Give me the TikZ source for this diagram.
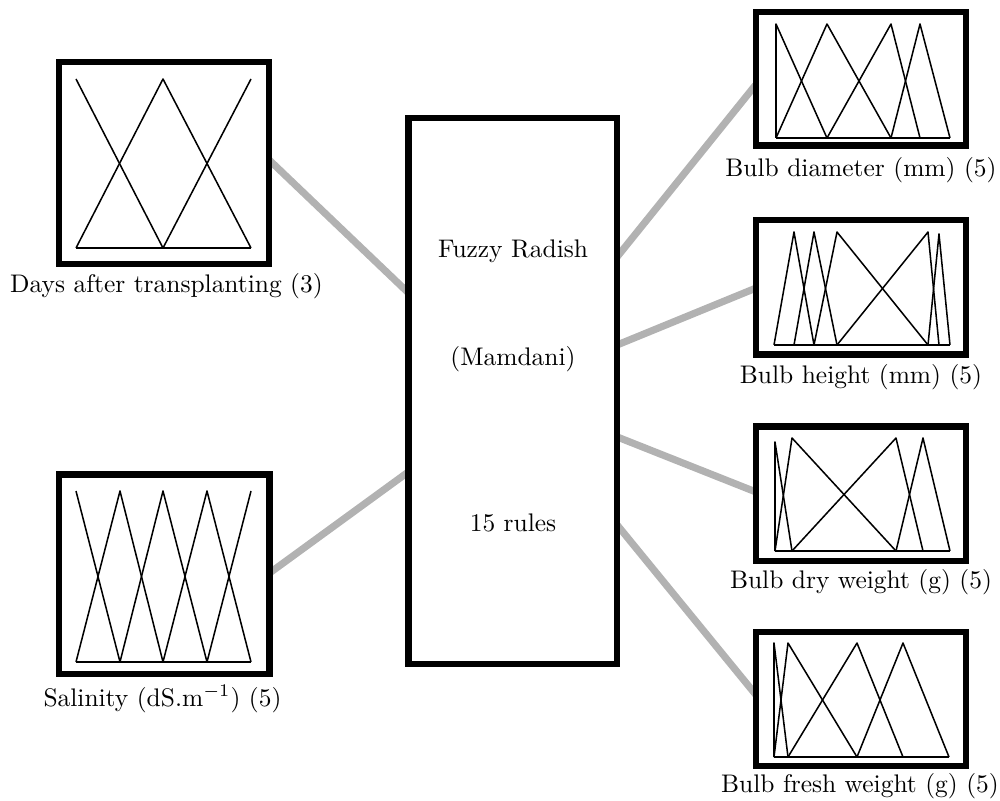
\documentclass[tikz,border=0pt]{standalone}
\usetikzlibrary{calc,backgrounds}
\definecolor{linkgray}{RGB}{178,178,178}
\begin{document}
\begin{tikzpicture}[x=0.393pt,y=-0.393pt,
  frame/.style={draw=black,line width=2.36pt,fill=white,inner sep=0pt,outer sep=0pt},
  box/.style 2 args={minimum width=#1*0.393pt,minimum height=#2*0.393pt},
  mf/.style={line width=0.6pt,line join=round},
  conn/.style={draw=linkgray,line width=2.8pt},
  lbl/.style={anchor=base,inner sep=0pt}]
\useasboundingbox (0,0) rectangle (1000,801);

% boxes
\node[frame,box={210}{201.5}] (days) at (164,163) {};
\node[frame,box={210.5}{199.5}] (sal) at (164.25,574.25) {};
\node[frame,box={208.5}{546}] (fis) at (512.75,391) {};
\node[frame,box={210}{133.5}] (diam) at (860.5,78.75) {};
\node[frame,box={209.5}{134.5}] (height) at (860.75,287.25) {};
\node[frame,box={209.5}{134.5}] (dry) at (860.75,493.75) {};
\node[frame,box={209.5}{134}] (fresh) at (860.75,699) {};

% connectors
\begin{scope}[on background layer]
\draw[conn] ($(days.north east)!0.484!(days.south east)$) -- ($(fis.north west)!0.3205!(fis.south west)$);
\draw[conn] ($(sal.north east)!0.494!(sal.south east)$) -- ($(fis.north west)!0.648!(fis.south west)$);
\draw[conn] ($(fis.north east)!0.2546!(fis.south east)$) -- ($(diam.north west)!0.547!(diam.south west)$);
\draw[conn] ($(fis.north east)!0.4158!(fis.south east)$) -- ($(height.north west)!0.506!(height.south west)$);
\draw[conn] ($(fis.north east)!0.584!(fis.south east)$) -- ($(dry.north west)!0.487!(dry.south west)$);
\draw[conn] ($(fis.north east)!0.745!(fis.south east)$) -- ($(fresh.north west)!0.47!(fresh.south west)$);
\end{scope}

% membership functions: days
\draw[mf] (76,248) -- (251,248);
\draw[mf] (76,79) -- (163,248);
\draw[mf] (76,248) -- (163,79) -- (251,248);
\draw[mf] (163,248) -- (251,79);

% salinity
\draw[mf] (76,662) -- (251,662);
\draw[mf] (76,491) -- (120,662);
\draw[mf] (76,662) -- (120,491) -- (163,662);
\draw[mf] (120,662) -- (163,491) -- (207,662);
\draw[mf] (163,662) -- (207,491) -- (251,662);
\draw[mf] (207,662) -- (251,491);

% bulb diameter
\draw[mf] (776,138) -- (950,138);
\draw[mf] (776,138) -- (776,24) -- (827,138);
\draw[mf] (776,138) -- (827,24) -- (891,138);
\draw[mf] (827,138) -- (891,24) -- (920,138);
\draw[mf] (891,138) -- (920,24) -- (950,138);

% bulb height
\draw[mf] (774,345) -- (950,345);
\draw[mf] (774,345) -- (794,232) -- (814,345);
\draw[mf] (794,345) -- (814,232) -- (837,345);
\draw[mf] (814,345) -- (837,232) -- (928,345);
\draw[mf] (837,345) -- (928,232) -- (939,345);
\draw[mf] (928,345) -- (939,234) -- (950,345);

% bulb dry weight
\draw[mf] (775,551) -- (950,551);
\draw[mf] (775,551) -- (775,442) -- (792,551);
\draw[mf] (775,551) -- (792,438) -- (896,551);
\draw[mf] (792,551) -- (896,438) -- (923,551);
\draw[mf] (896,551) -- (923,438) -- (950,551);

% bulb fresh weight
\draw[mf] (774,757) -- (949,757);
\draw[mf] (774,757) -- (774,643) -- (788,757);
\draw[mf] (774,757) -- (788,643) -- (857,757);
\draw[mf] (788,757) -- (857,643) -- (903,757);
\draw[mf] (857,757) -- (903,643) -- (949,757);

% labels
\node[lbl] (dayslbl) at (166.5,293) {Days after transplanting (3)};
\node[lbl] (sallbl) at (162.5,706) {Salinity (dS.m$^{-1}$) (5)};
\node[lbl] (t1) at (513,258) {Fuzzy Radish};
\node[lbl] (t2) at (513,366) {(Mamdani)};
\node[lbl] (t3) at (513,532) {15 rules};
\node[lbl] (diamlbl) at (861,177) {Bulb diameter (mm) (5)};
\node[lbl] (heightlbl) at (861,384) {Bulb height (mm) (5)};
\node[lbl] (drylbl) at (861,589) {Bulb dry weight (g) (5)};
\node[lbl] (freshlbl) at (860,792) {Bulb fresh weight (g) (5)};
\end{tikzpicture}
\end{document}
